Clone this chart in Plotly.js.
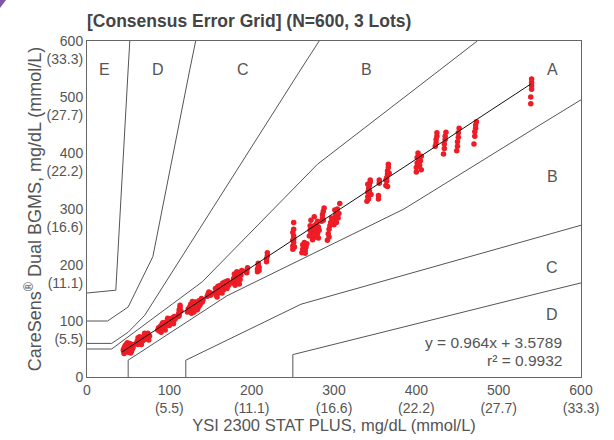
<!DOCTYPE html>
<html>
<head>
<meta charset="utf-8">
<script src="https://cdn.plot.ly/plotly-3.0.1.min.js"></script>
<style>html,body{margin:0;padding:0;background:#fff;}#chart{width:614px;height:440px;}</style>
</head>
<body>
<div id="chart"></div>
<script>
// ---- Data (mg/dL) ----
const ysi = [
 44,45,46,46,47,48,48,49,50,50,51,52,52,53,54,54,55,56,45,49,53,56,47,51,
 60,61,62,63,64,65,66,67,68,69,70,71,72,73,74,75,76,62,66,70,74,64,
 86,87,88,89,90,91,92,93,94,95,96,97,98,99,100,101,102,103,104,105,106,107,90,95,100,105,92,98,
 111,111,112,112,113,113,112,114,
 122,123,124,125,126,127,128,129,130,131,132,133,134,135,136,137,138,139,140,141,126,130,135,128,
 146,147,148,150,150,
 155,156,157,158,159,160,161,162,163,164,165,166,167,168,169,170,171,172,173,158,164,170,
 177,178,179,180,181,182,183,184,185,186,187,188,180,185,
 194,194,195,193,
 207,207,208,208,209,209,
 218,218,219,219,
 250,250,251,251,251,250,251,251,252,250,
 261,262,263,264,265,266,267,262,265,
 270,271,272,273,274,275,276,277,278,279,280,281,282,272,276,280,274,278,271,281,
 285,286,286,287,288,287,
 292,293,294,295,296,297,294,
 300,301,302,303,304,305,306,307,303,301,
 340,341,341,342,343,344,344,342,345,343,341,
 354,354,355,355,
 363,364,364,365,365,366,366,367,363,365,
 400,400,401,401,402,404,405,406,406,403,
 423,424,424,425,425,
 433,434,434,435,435,436,
 449,450,450,451,451,452,
 470,471,471,472,472,473,
 539,539,540,540,540,540
];
const bgms = [
 48,52,45,55,50,47,58,53,44,50,56,48,60,52,46,55,50,58,42,61,43,53,57,52,
 60,64,58,66,62,68,63,70,65,72,67,74,69,76,71,66,73,70,58,78,78,72,
 84,88,82,90,86,94,88,92,96,90,98,93,100,96,102,98,104,99,106,101,108,103,80,84,92,95,97,105,
 108,112,116,120,124,128,110,118,
 116,122,118,126,120,114,124,130,122,128,134,126,120,130,136,128,132,140,134,138,130,116,124,135,
 144,148,152,146,150,
 150,158,146,154,162,150,158,164,155,160,168,156,162,170,160,166,172,164,168,143,150,158,
 168,176,184,172,180,188,170,178,186,174,182,190,164,166,
 186,190,195,188,
 188,193,198,203,196,190,
 206,211,216,222,
 228,234,240,246,252,258,264,276,232,244,
 222,228,234,240,226,232,238,236,221,
 252,262,256,266,250,260,270,258,264,274,256,268,262,280,286,278,245,250,270,248,
 278,284,290,296,302,280,
 244,256,264,270,276,284,250,
 272,280,288,294,300,284,292,310,276,298,
 314,322,330,336,342,348,352,318,326,332,344,
 318,324,346,352,
 342,350,356,362,368,374,380,364,352,340,
 366,374,382,392,400,378,386,394,370,388,
 412,418,424,430,436,
 398,408,416,424,430,437,
 404,412,420,428,436,444,
 416,430,438,444,450,456,
 488,500,514,520,526,532
];

// Regression (from chart)
const fitSlope = 0.964;
const fitIntercept = 3.5789;
const fitX = [42, 539];
const rSquared = 0.9932;

// Consensus (Parkes) error grid boundaries
const zoneE_x = [0, 35, 50, 52],            zoneE_y = [150, 155, 550, 600];
const zoneDup_x = [0, 25, 50, 80, 125, 132], zoneDup_y = [100, 100, 125, 215, 550, 600];
const zoneCup_x = [0, 30, 50, 70, 260, 282], zoneCup_y = [60, 60, 80, 110, 550, 600];
const zoneBup_x = [0, 30, 140, 280, 430, 474], zoneBup_y = [50, 50, 170, 380, 550, 600];
const zoneAlo_x = [50, 50, 170, 385, 550, 600], zoneAlo_y = [0, 30, 145, 300, 450, 495];
const zoneClo_x = [120, 120, 260, 550, 600], zoneClo_y = [0, 30, 130, 250, 271];
const zoneDlo_x = [250, 250, 550, 600],      zoneDlo_y = [0, 40, 150, 168];

// Zone labels
const zoneLabels = ['E', 'D', 'C', 'B', 'A', 'B', 'C', 'D'];
const zoneLabelX = [21, 86, 189, 340, 565, 565, 565, 565];
const zoneLabelY = [550, 550, 550, 550, 550, 358, 195, 111];

// Tick labels
const tickVals = [0, 100, 200, 300, 400, 500, 600];
const xTickText = ['0', '100<br>(5.5)', '200<br>(11.1)', '300<br>(16.6)', '400<br>(22.2)', '500<br>(27.7)', '600<br>(33.3)'];
const yTickText = ['0<br> ', '100<br>(5.5)', '200<br>(11.1)', '300<br>(16.6)', '400<br>(22.2)', '500<br>(27.7)', '600<br>(33.3)'];

// ---- Traces ----
const gridColor = '#555';
const font = 'Arial, "Liberation Sans", Helvetica, sans-serif';
function zoneLine(x, y) {
  return {x: x, y: y, type: 'scatter', mode: 'lines', line: {color: gridColor, width: 1}, hoverinfo: 'skip', showlegend: false};
}
const traces = [
  zoneLine(zoneE_x, zoneE_y),
  zoneLine(zoneDup_x, zoneDup_y),
  zoneLine(zoneCup_x, zoneCup_y),
  zoneLine(zoneBup_x, zoneBup_y),
  zoneLine(zoneAlo_x, zoneAlo_y),
  zoneLine(zoneClo_x, zoneClo_y),
  zoneLine(zoneDlo_x, zoneDlo_y),
  {x: ysi, y: bgms, type: 'scatter', mode: 'markers', marker: {color: '#ee1c25', size: 5.5}, showlegend: false},
  {x: fitX, y: fitX.map(v => fitSlope * v + fitIntercept), type: 'scatter', mode: 'lines', line: {color: '#111', width: 1}, showlegend: false}
];

const annotations = zoneLabels.map((t, i) => ({
  x: zoneLabelX[i], y: zoneLabelY[i], xref: 'x', yref: 'y', text: t, showarrow: false,
  font: {family: font, size: 16, color: '#555'}
}));
annotations.push({
  x: 579, y: 62, xref: 'x', yref: 'y', xanchor: 'right', showarrow: false,
  text: 'y = ' + fitSlope + 'x + ' + fitIntercept,
  font: {family: font, size: 15.5, color: '#555'}
});
annotations.push({
  x: 579, y: 30, xref: 'x', yref: 'y', xanchor: 'right', showarrow: false,
  text: 'r² = ' + rSquared,
  font: {family: font, size: 15.5, color: '#555'}
});

const layout = {
  width: 614, height: 440,
  margin: {l: 87, r: 33, t: 41, b: 63, pad: 0},
  paper_bgcolor: '#fff', plot_bgcolor: '#fff',
  font: {family: font, color: '#555'},
  title: {
    text: '<b>[Consensus Error Grid] (N=600, 3 Lots)</b>',
    x: 87 / 614, xanchor: 'left', xref: 'container',
    y: 1 - 21 / 440, yanchor: 'middle', yref: 'container',
    font: {family: font, size: 17.5, color: '#444'}
  },
  xaxis: {
    range: [0, 600], tickvals: tickVals, ticktext: xTickText,
    showgrid: false, zeroline: false, showline: true, mirror: true, linecolor: '#666', linewidth: 1,
    ticks: '', tickfont: {family: font, size: 14, color: '#555'},
    title: {text: 'YSI 2300 STAT PLUS, mg/dL (mmol/L)', font: {family: font, size: 16.5, color: '#555'}, standoff: 1}
  },
  yaxis: {
    range: [0, 600], tickvals: tickVals, ticktext: yTickText,
    showgrid: false, zeroline: false, showline: true, mirror: true, linecolor: '#666', linewidth: 1,
    ticks: '', tickfont: {family: font, size: 14, color: '#555'}, ticklabelshift: 9,
    title: {text: 'CareSens<sup>®</sup> Dual BGMS, mg/dL (mmol/L)', font: {family: font, size: 18, color: '#555'}, standoff: 0}
  },
  annotations: annotations,
  shapes: [{
    type: 'path', xref: 'paper', yref: 'paper',
    path: 'M -0.1761,1.122 L -0.1640,1.122 L -0.1761,1.098 Z',
    fillcolor: '#7e57a6', line: {width: 0}
  }]
};

Plotly.newPlot('chart', traces, layout, {displayModeBar: false, staticPlot: true});
</script>
</body>
</html>
